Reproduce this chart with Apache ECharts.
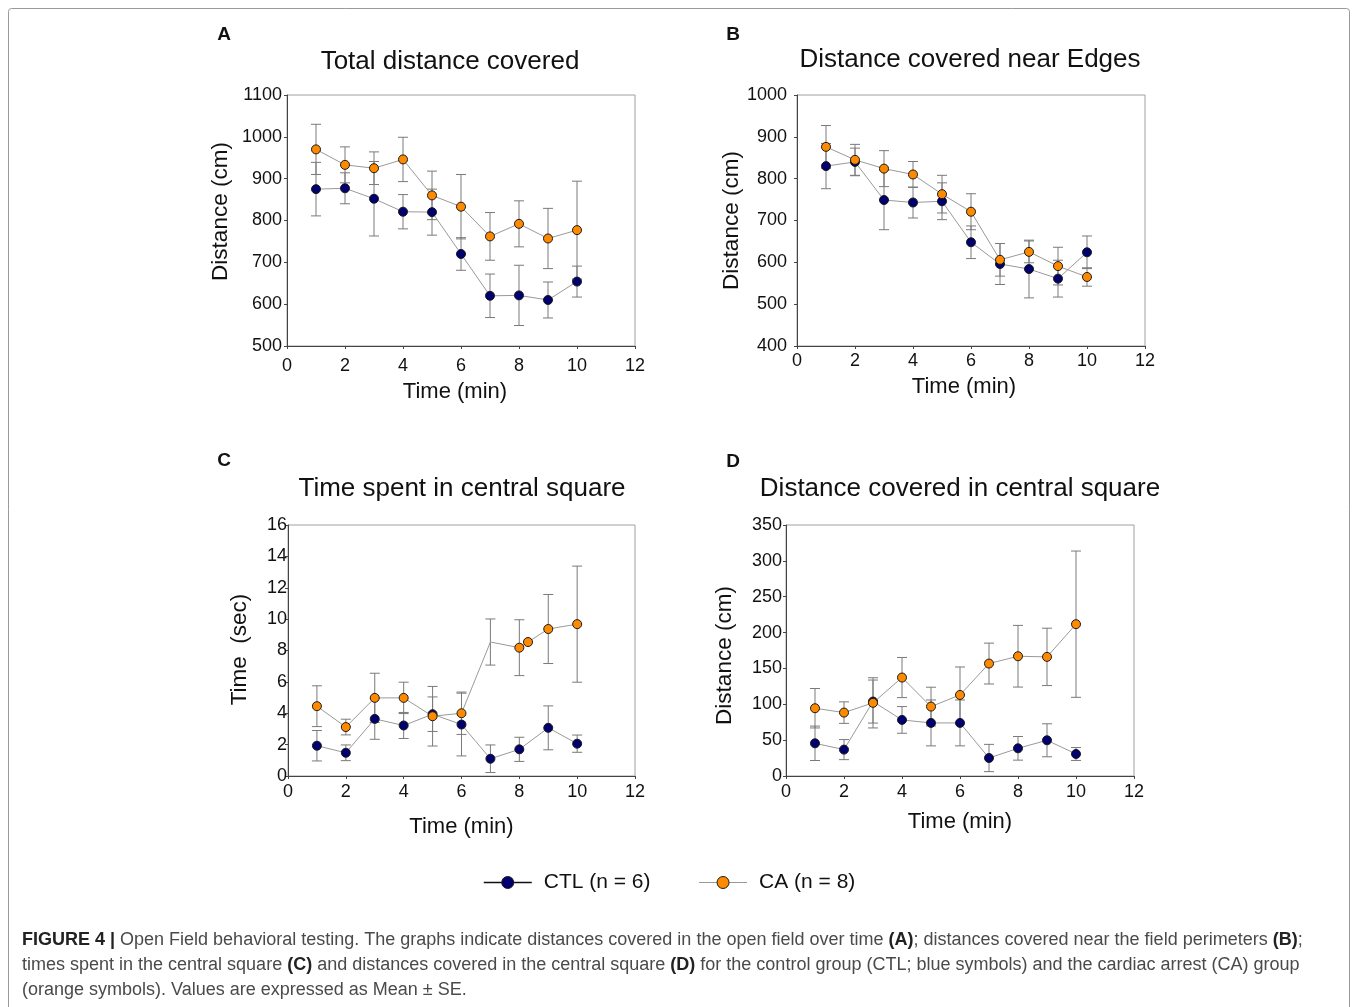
<!DOCTYPE html>
<html><head><meta charset="utf-8">
<script src="https://cdn.jsdelivr.net/npm/echarts@6/dist/echarts.min.js"></script>
<style>html,body{margin:0;padding:0;background:#fff}#c{width:1358px;height:1007px}</style>
</head><body><div id="c"></div>
<script>
// ---------- data ----------
const minutes = [1,2,3,4,5,6,7,8,9,10];
const xTicks = [0, 12, 2];            // min, max, step (min)

const ctlA    = [875,877,852,821,820,720,620,621,610,654];
const ctlA_se = [64,37,89,41,55,39,52,72,43,37];
const caA     = [970,933,925,946,860,833,762,792,757,777];
const caA_se  = [60,43,39,53,58,77,57,55,72,117];
const yTicksA = [500, 1100, 100];

const ctlB    = [830,840,749,743,746,648,596,584,561,624];
const ctlB_se = [54,33,71,37,44,39,49,69,44,39];
const caB     = [876,845,824,810,763,721,606,625,591,565];
const caB_se  = [51,37,43,31,45,43,39,26,45,22];
const yTicksB = [400, 1000, 100];

const ctlC    = [1.93,1.48,3.64,3.22,3.94,3.28,1.10,1.70,3.07,2.06];
const ctlC_se = [0.97,0.5,1.3,0.83,1.1,2.0,0.88,0.77,1.4,0.55];
const caC_x   = [1,2,3,4,5,6,7,8,8.3,9,10];
const caC     = [4.45,3.12,4.98,4.98,3.81,4.0,8.54,8.18,8.54,9.37,9.68];
const caC_se  = [1.3,0.5,1.57,1.0,1.9,1.35,1.47,1.78,null,2.2,3.7];
const caC_noMarkerAt = [7];
const yTicksC = [0, 16, 2];

const ctlD    = [45.6,36.8,103.8,78.2,74,74,25.1,38.6,49.8,30.7];
const ctlD_se = [24,14,30,18.6,32,32,19,16.5,23,9];
const caD     = [94.5,88.4,102,137.3,96.8,113,156.8,167,166.1,211.7];
const caD_se  = [27.5,15,35,28,27,39,28.5,43,40,102];
const yTicksD = [0, 350, 50];

const ctlName = 'CTL (n = 6)';
const caName  = 'CA (n = 8)';

const panels = [
  {letter:'A', title:'Total distance covered', yName:'Distance (cm)', xName:'Time (min)',
   ctlX:minutes, ctl:ctlA, ctlSe:ctlA_se, caX:minutes, ca:caA, caSe:caA_se, yT:yTicksA},
  {letter:'B', title:'Distance covered near Edges', yName:'Distance (cm)', xName:'Time (min)',
   ctlX:minutes, ctl:ctlB, ctlSe:ctlB_se, caX:minutes, ca:caB, caSe:caB_se, yT:yTicksB},
  {letter:'C', title:'Time spent in central square', yName:'Time  (sec)', xName:'Time (min)',
   ctlX:minutes, ctl:ctlC, ctlSe:ctlC_se, caX:caC_x, ca:caC, caSe:caC_se, yT:yTicksC, caHide:caC_noMarkerAt},
  {letter:'D', title:'Distance covered in central square', yName:'Distance (cm)', xName:'Time (min)',
   ctlX:minutes, ctl:ctlD, ctlSe:ctlD_se, caX:minutes, ca:caD, caSe:caD_se, yT:yTicksD}
];

// ---------- layout ----------
const FONT = '"Liberation Sans", Arial, sans-serif';
const layout = [
  {grid:{left:287, top:95, width:348, height:251}, xLabM:11, xNameGap:35, xNamePad:[0,12,0,0],
   yLabM:5, yNameGap:55, yNamePad:[0,0,0,18], title:[450,62], letter:[224,35]},
  {grid:{left:797, top:95, width:348, height:251}, xLabM:6, xNameGap:30, xNamePad:[0,14,0,0],
   yLabM:10, yNameGap:53, yNamePad:[0,0,0,0], title:[970,60], letter:[733,35]},
  {grid:{left:288, top:525, width:347, height:251}, xLabM:7, xNameGap:40, xNamePad:[0,0,0,0],
   yLabM:1, yNameGap:37, yNamePad:[0,0,0,2], title:[462,489], letter:[224,461]},
  {grid:{left:786, top:525, width:348, height:251}, xLabM:7, xNameGap:35, xNamePad:[0,0,0,0],
   yLabM:4, yNameGap:50, yNamePad:[0,10,0,0], title:[960,489], letter:[733,462]}
];

const CTL_COLOR = '#00006e';
const CA_COLOR = '#ff8a00';

function errSeries(idx, xs, ys, se) {
  const data = [];
  xs.forEach((x,i)=>{ if (se[i] != null) data.push([x, ys[i]-se[i], ys[i]+se[i]]); });
  return {
    type:'custom', xAxisIndex:idx, yAxisIndex:idx, z:1, silent:true, animation:false,
    data, encode:{x:0, y:[1,2]},
    renderItem(params, api){
      const x = api.value(0);
      const lo = api.coord([x, api.value(1)]);
      const hi = api.coord([x, api.value(2)]);
      const w = 5, st = {stroke:'#7a7a7a', lineWidth:1};
      return {type:'group', children:[
        {type:'line', shape:{x1:lo[0], y1:lo[1], x2:hi[0], y2:hi[1]}, style:st},
        {type:'line', shape:{x1:lo[0]-w, y1:lo[1], x2:lo[0]+w, y2:lo[1]}, style:st},
        {type:'line', shape:{x1:hi[0]-w, y1:hi[1], x2:hi[0]+w, y2:hi[1]}, style:st}
      ]};
    }
  };
}

function lineSeries(idx, name, xs, ys, color, hide) {
  return {
    type:'line', name, xAxisIndex:idx, yAxisIndex:idx, z:3, animation:false,
    data: xs.map((x,i)=> (hide && hide.includes(x)) ? {value:[x,ys[i]], symbolSize:0} : [x, ys[i]]),
    symbol:'circle', symbolSize:9, showAllSymbol:true,
    lineStyle:{color:'#9a9a9a', width:1},
    itemStyle:{color, borderColor:'#1a1a1a', borderWidth:1},
    emphasis:{disabled:true}
  };
}

const grids = [], xAxes = [], yAxes = [], series = [], graphics = [];
panels.forEach((p, i) => {
  const L = layout[i];
  grids.push(Object.assign({show:true, borderColor:'#a0a0a0', borderWidth:1, backgroundColor:'transparent'}, L.grid));
  xAxes.push({
    gridIndex:i, type:'value', min:xTicks[0], max:xTicks[1], interval:xTicks[2],
    name:p.xName, nameLocation:'middle', nameGap:L.xNameGap,
    nameTextStyle:{fontSize:22, color:'#111', fontFamily:FONT, padding:L.xNamePad},
    axisLine:{show:true, onZero:false, lineStyle:{color:'#444', width:1}},
    axisTick:{show:true, length:3, lineStyle:{color:'#444'}},
    axisLabel:{fontSize:18, color:'#111', fontFamily:FONT, margin:L.xLabM, formatter:v=>String(v)},
    splitLine:{show:false}
  });
  yAxes.push({
    gridIndex:i, type:'value', min:p.yT[0], max:p.yT[1], interval:p.yT[2],
    name:p.yName, nameLocation:'middle', nameGap:L.yNameGap,
    nameTextStyle:{fontSize:22.5, color:'#111', fontFamily:FONT, padding:L.yNamePad},
    axisLine:{show:true, onZero:false, lineStyle:{color:'#444', width:1}},
    axisTick:{show:true, length:3, lineStyle:{color:'#444'}},
    axisLabel:{fontSize:18, color:'#111', fontFamily:FONT, margin:L.yLabM, formatter:v=>String(v)},
    splitLine:{show:false}
  });
  series.push(errSeries(i, p.ctlX, p.ctl, p.ctlSe));
  series.push(errSeries(i, p.caX, p.ca, p.caSe));
  series.push(lineSeries(i, ctlName, p.ctlX, p.ctl, CTL_COLOR));
  series.push(lineSeries(i, caName, p.caX, p.ca, CA_COLOR, p.caHide));
  graphics.push({type:'text', x:L.title[0], y:L.title[1], silent:true,
    style:{text:p.title, fontSize:26, fontFamily:FONT, fill:'#111', align:'center', verticalAlign:'middle'}});
  graphics.push({type:'text', x:L.letter[0], y:L.letter[1], silent:true,
    style:{text:p.letter, fontSize:19, fontWeight:'bold', fontFamily:FONT, fill:'#111', align:'center', verticalAlign:'middle'}});
});

// outer frame
graphics.push({type:'rect', silent:true, z:-10,
  shape:{x:8.5, y:8.5, width:1341, height:1012, r:3},
  style:{fill:null, stroke:'#9a9a9a', lineWidth:1}});

// caption
const CAP_FONT = '"Liberation Sans", Arial, sans-serif';
const capRich = {
  n:{fontSize:18, fontFamily:CAP_FONT, fill:'#4a4a4a'},
  b:{fontSize:18, fontFamily:CAP_FONT, fill:'#222', fontWeight:'bold'}
};
const captionLines = [
  '{b|FIGURE 4 |}{n| Open Field behavioral testing. The graphs indicate distances covered in the open field over time }{b|(A)}{n|; distances covered near the field perimeters }{b|(B)}{n|;}',
  '{n|times spent in the central square }{b|(C)}{n| and distances covered in the central square }{b|(D)}{n| for the control group (CTL; blue symbols) and the cardiac arrest (CA) group}',
  '{n|(orange symbols). Values are expressed as Mean \u00b1 SE.}'
];
const capY = [940, 965, 990];
captionLines.forEach((t, k) => {
  graphics.push({type:'text', x:22, y:capY[k], silent:true,
    style:{text:t, rich:capRich, fontSize:18, fontFamily:CAP_FONT, fill:'#4a4a4a', align:'left', verticalAlign:'middle'}});
});

const chart = echarts.init(document.getElementById('c'), null, {renderer:'canvas'});
chart.setOption({
  backgroundColor:'#fff',
  animation:false,
  grid:grids, xAxis:xAxes, yAxis:yAxes, series,
  legend:{
    left:478, top:867, itemWidth:48, itemHeight:15, itemGap:48, selectedMode:false,
    textStyle:{fontSize:21, color:'#111', fontFamily:FONT, padding:[0,0,0,7]},
    data:[
      {name:ctlName, itemStyle:{color:CTL_COLOR, borderColor:'#1a1a1a', borderWidth:1}, lineStyle:{color:'#111', width:1.5}},
      {name:caName, itemStyle:{color:CA_COLOR, borderColor:'#1a1a1a', borderWidth:1}, lineStyle:{color:'#999', width:1}}
    ]
  },
  graphic:graphics
});
</script></body></html>
